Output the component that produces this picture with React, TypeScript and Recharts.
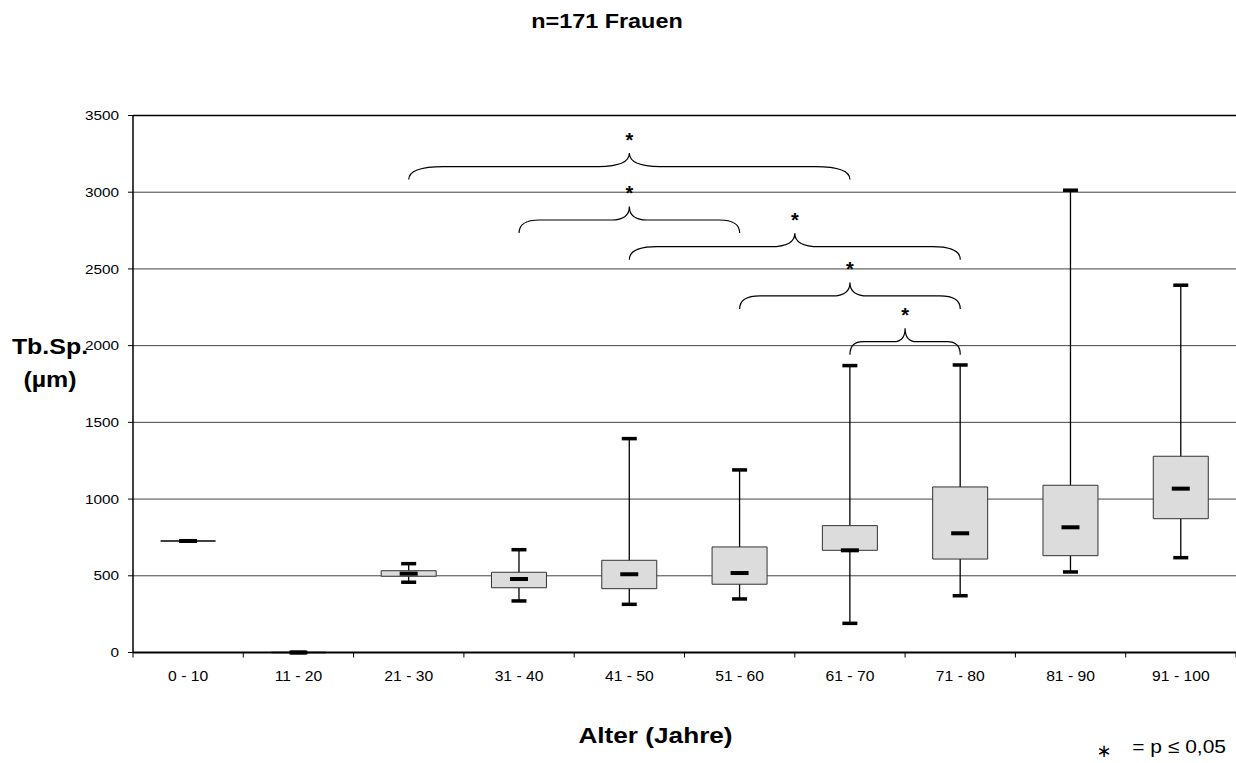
import React from "react";
import {
  ComposedChart,
  Bar,
  XAxis,
  YAxis,
  CartesianGrid,
  ReferenceLine,
} from "recharts";

const ageGroups = [
  "0 - 10",
  "11 - 20",
  "21 - 30",
  "31 - 40",
  "41 - 50",
  "51 - 60",
  "61 - 70",
  "71 - 80",
  "81 - 90",
  "91 - 100",
];
const minValues = [727, 0, 458, 336, 314, 349, 190, 370, 525, 618];
const q1Values = [727, 0, 497, 422, 416, 445, 666, 609, 631, 872];
const medianValues = [727, 0, 514, 479, 510, 518, 666, 777, 816, 1068];
const q3Values = [727, 0, 533, 523, 601, 688, 827, 1079, 1090, 1279];
const maxValues = [727, 0, 579, 670, 1394, 1190, 1870, 1874, 3013, 2394];
const yTicks = [0, 500, 1000, 1500, 2000, 2500, 3000, 3500];

// significance braces: from group, to group, height of the brace
const braceFrom = ["21 - 30", "31 - 40", "41 - 50", "51 - 60", "61 - 70"];
const braceTo = ["61 - 70", "51 - 60", "71 - 80", "71 - 80", "71 - 80"];
const braceLevel = [3167, 2819, 2645, 2324, 2026];

const data = ageGroups.map((group, i) => ({
  group,
  min: minValues[i],
  q1: q1Values[i],
  median: medianValues[i],
  q3: q3Values[i],
  max: maxValues[i],
}));

const FONT = "'Liberation Sans', Arial, sans-serif";

function Stretched({ x, y, size, bold, anchor = "middle", sx = 1.15, children }: any) {
  return (
    <text
      transform={`translate(${x} ${y}) scale(${sx} 1)`}
      fontFamily={FONT}
      fontSize={size}
      fontWeight={bold ? 700 : 400}
      textAnchor={anchor}
      fill="#000"
    >
      {children}
    </text>
  );
}

function BoxShape(props: any) {
  const { x, y, width, height, payload } = props;
  if (typeof x !== "number" || typeof y !== "number" || !payload) return null;
  const top = Math.min(y, y + height);
  const bottom = Math.max(y, y + height);
  const { min, q1, median, q3, max } = payload;
  const span = max - min;
  const py = (v: number) =>
    span === 0 ? top : bottom - ((v - min) / span) * (bottom - top);
  const cx = x + width / 2;
  const cap = 15;
  const mark = 18;
  return (
    <g>
      <line x1={cx} x2={cx} y1={py(max)} y2={py(min)} stroke="#000" strokeWidth={1.3} />
      <path
        d={`M${x},${py(q3)}H${x + width}V${py(q1)}H${x}Z`}
        fill="#dcdcdc"
        stroke={span === 0 ? "#000" : "#333"}
        strokeWidth={span === 0 ? 1.5 : 1}
      />
      <rect x={cx - cap / 2} y={py(max) - 1.75} width={cap} height={3.5} fill="#000" />
      <rect x={cx - cap / 2} y={py(min) - 1.75} width={cap} height={3.5} fill="#000" />
      <rect x={cx - mark / 2} y={py(median) - 2} width={mark} height={4} fill="#000" />
    </g>
  );
}

function BraceShape(props: any) {
  const { x1, x2, y1 } = props;
  if ([x1, x2, y1].some((v) => typeof v !== "number" || isNaN(v))) return null;
  const len = x2 - x1;
  const c = 6 + 0.065 * len;
  const cm = 5 + 0.058 * len;
  const xm = (x1 + x2) / 2;
  const y = y1;
  const d =
    `M${x1},${y + 13} Q${x1},${y} ${x1 + c},${y} L${xm - cm},${y} ` +
    `Q${xm},${y} ${xm},${y - 13.5} Q${xm},${y} ${xm + cm},${y} ` +
    `L${x2 - c},${y} Q${x2},${y} ${x2},${y + 13}`;
  return (
    <g>
      <path d={d} fill="none" stroke="#000" strokeWidth={1.2} />
      <text
        x={xm}
        y={y - 13.5 - 6}
        textAnchor="middle"
        fontFamily={FONT}
        fontWeight={700}
        fontSize={20}
        fill="#000"
      >
        *
      </text>
    </g>
  );
}

function AgeTick(props: any) {
  const { x, y, payload, index } = props;
  const half = payload && payload.offset ? payload.offset : 55;
  return (
    <g>
      <line x1={x - half} x2={x - half} y1={y} y2={y + 5} stroke="#000" strokeWidth={1} />
      {index === ageGroups.length - 1 && (
        <line x1={x + half} x2={x + half} y1={y} y2={y + 5} stroke="#000" strokeWidth={1} />
      )}
      <Stretched x={x} y={y + 28.2} size={14} sx={1.12}>
        {payload.value}
      </Stretched>
    </g>
  );
}

function ValueTick(props: any) {
  const { x, y, payload } = props;
  return (
    <Stretched x={x} y={y + 4.6} size={13} anchor="end" sx={1.18}>
      {payload.value}
    </Stretched>
  );
}

export default function App() {
  return (
    <div
      style={{
        position: "absolute",
        left: 0,
        top: 0,
        width: 1236,
        height: 763,
        background: "#fff",
        overflow: "hidden",
      }}
    >
      <svg
        width={1236}
        height={763}
        style={{ position: "absolute", left: 0, top: 0, pointerEvents: "none" }}
      >
        <Stretched x={607} y={28.3} size={19.5} bold sx={1.2}>
          n=171 Frauen
        </Stretched>
        <Stretched x={50} y={354.3} size={22.5} bold sx={1.11}>
          Tb.Sp.
        </Stretched>
        <Stretched x={50} y={386.7} size={22.5} bold sx={1.11}>
          (µm)
        </Stretched>
        <Stretched x={655.5} y={743.3} size={22} bold sx={1.19}>
          Alter (Jahre)
        </Stretched>
        <text
          x={1104}
          y={757}
          textAnchor="middle"
          fontFamily="'DejaVu Sans', sans-serif"
          fontSize={18}
          fill="#000"
        >
          ∗
        </text>
        <Stretched x={1226} y={753.3} size={18.6} anchor="end" sx={1.13}>
          = p ≤ 0,05
        </Stretched>
      </svg>
      <div style={{ position: "absolute", left: 0, top: 0 }}>
        <ComposedChart
          width={1236}
          height={763}
          data={data}
          margin={{ top: 115.5, right: 0, bottom: 80.5, left: 0 }}
          barCategoryGap="25%"
        >
          <CartesianGrid vertical={false} stroke="#444" strokeWidth={1} />
          <XAxis
            dataKey="group"
            height={30}
            axisLine={{ stroke: "#000", strokeWidth: 2 }}
            tickLine={false}
            tickSize={0}
            tickMargin={0}
            tick={<AgeTick />}
            interval={0}
          />
          <YAxis
            width={133}
            domain={[0, 3500]}
            ticks={yTicks}
            interval={0}
            axisLine={{ stroke: "#000", strokeWidth: 1.5 }}
            tickLine={{ stroke: "#000", strokeWidth: 1 }}
            tickSize={5}
            tickMargin={9}
            tick={<ValueTick />}
          />
          <ReferenceLine y={3500} stroke="#000" strokeWidth={1.5} />
          <Bar
            dataKey={(d: any) => [d.min, d.max]}
            shape={<BoxShape />}
            isAnimationActive={false}
          />
          {braceLevel.map((level, i) => (
            <ReferenceLine
              key={i}
              segment={[
                { x: braceFrom[i], y: level },
                { x: braceTo[i], y: level },
              ]}
              shape={BraceShape}
              ifOverflow="visible"
            />
          ))}
        </ComposedChart>
      </div>
    </div>
  );
}
